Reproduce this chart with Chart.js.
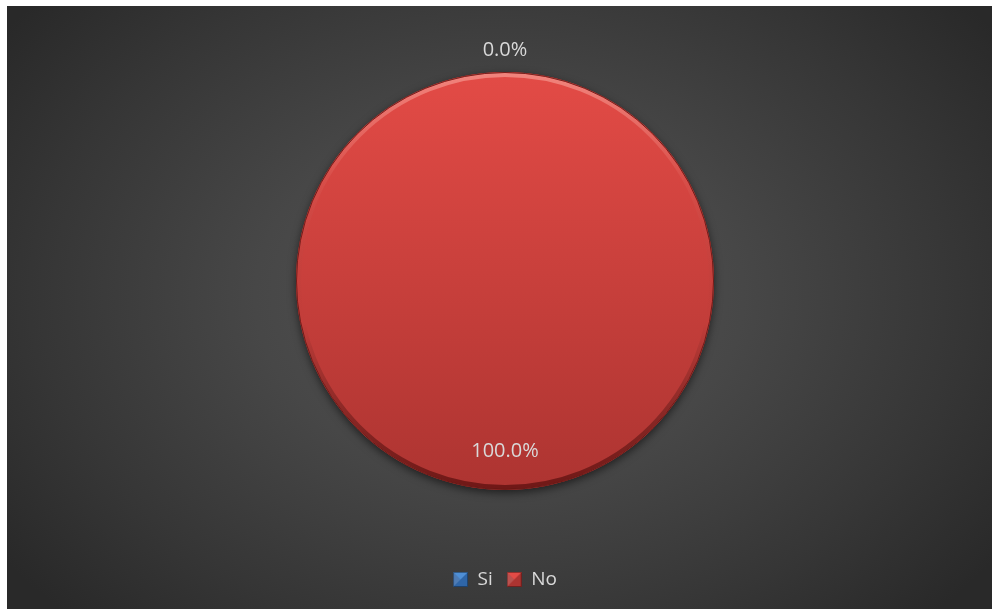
<!DOCTYPE html>
<html>
<head>
<meta charset="utf-8">
<script src="https://cdn.jsdelivr.net/npm/chart.js@4"></script>
<style>
  html, body { margin: 0; padding: 0; background: #ffffff; width: 992px; height: 609px; overflow: hidden; }
  #box {
    position: absolute; left: 7px; top: 6px; width: 985px; height: 603px;
    background: radial-gradient(ellipse 62% 75% at 50% 48%, #555555 0%, #474747 40%, #363636 75%, #292929 100%);
  }
  canvas { display: block; }
</style>
</head>
<body>
<div id="box"><canvas id="c" width="985" height="603"></canvas></div>
<script>
const categories = ['Si', 'No'];
const values = [0, 100];
const sliceTop = ['#4f8fd6', '#e34b46'];
const sliceBottom = ['#2f66a8', '#ad3431'];

const total = values.reduce((a, b) => a + b, 0);
const FONT = "'Open Sans', 'DejaVu Sans', sans-serif";
const TEXT = '#d9d9d9';

function bevelBox(top, bottom) {
  const s = 15;
  const cv = document.createElement('canvas');
  cv.width = s; cv.height = s;
  const g = cv.getContext('2d');
  g.fillStyle = bottom; g.fillRect(0, 0, s, s);
  g.fillStyle = top;
  g.beginPath(); g.moveTo(0, 0); g.lineTo(s, 0); g.lineTo(s / 2, s / 2); g.closePath(); g.fill();
  g.fillStyle = 'rgba(255,255,255,0.15)';
  g.beginPath(); g.moveTo(0, 0); g.lineTo(s / 2, s / 2); g.lineTo(0, s); g.closePath(); g.fill();
  g.strokeStyle = 'rgba(0,0,0,0.35)'; g.lineWidth = 1; g.strokeRect(0.5, 0.5, s - 1, s - 1);
  return cv;
}
const legendIcons = categories.map((c, i) => bevelBox(sliceTop[i], sliceBottom[i]));

const pieDeco = {
  id: 'pieDeco',
  beforeDatasetsDraw(chart) {
    const arc = chart.getDatasetMeta(0).data.find((a, i) => values[i] > 0);
    if (!arc) return;
    const ctx = chart.ctx;
    ctx.save();
    ctx.shadowColor = 'rgba(0,0,0,0.55)';
    ctx.shadowBlur = 8;
    ctx.shadowOffsetY = 3;
    ctx.fillStyle = '#7a2522';
    ctx.beginPath(); ctx.arc(arc.x, arc.y, arc.outerRadius, 0, Math.PI * 2); ctx.fill();
    ctx.restore();
  },
  afterDatasetsDraw(chart) {
    const meta = chart.getDatasetMeta(0);
    const arc = meta.data.find((a, i) => values[i] > 0);
    const ctx = chart.ctx;
    if (arc) {
      const { x, y, outerRadius: r } = arc;
      ctx.save();
      const gh = ctx.createLinearGradient(0, y - r, 0, y + r);
      gh.addColorStop(0, 'rgba(255,190,180,0.5)');
      gh.addColorStop(0.25, 'rgba(255,190,180,0.08)');
      gh.addColorStop(0.6, 'rgba(0,0,0,0.0)');
      gh.addColorStop(1, 'rgba(60,0,0,0.55)');
      ctx.strokeStyle = gh;
      ctx.lineWidth = 4;
      ctx.beginPath(); ctx.arc(x, y, r - 3, 0, Math.PI * 2); ctx.stroke();
      ctx.strokeStyle = 'rgba(90,20,18,0.8)';
      ctx.lineWidth = 1;
      ctx.beginPath(); ctx.arc(x, y, r - 0.5, 0, Math.PI * 2); ctx.stroke();
      ctx.restore();
    }
    ctx.save();
    ctx.font = '20px ' + FONT;
    ctx.fillStyle = TEXT;
    ctx.textAlign = 'center';
    ctx.textBaseline = 'middle';
    meta.data.forEach((a, i) => {
      const mid = (a.startAngle + a.endAngle) / 2;
      const pct = total ? values[i] / total * 100 : 0;
      const rr = values[i] > 0 ? a.outerRadius * 0.815 : a.outerRadius + 22;
      ctx.fillText(pct.toFixed(1) + '%', a.x + Math.cos(mid) * rr, a.y + Math.sin(mid) * rr);
    });
    ctx.restore();
  }
};

new Chart(document.getElementById('c'), {
  type: 'pie',
  data: {
    labels: categories,
    datasets: [{
      data: values,
      borderWidth: 0,
      backgroundColor(ctx) {
        const chart = ctx.chart;
        const ca = chart.chartArea;
        if (!ca) return sliceTop[ctx.dataIndex];
        const cy = (ca.top + ca.bottom) / 2;
        const r = 209;
        const g = chart.ctx.createLinearGradient(0, cy - r, 0, cy + r);
        g.addColorStop(0, sliceTop[ctx.dataIndex]);
        g.addColorStop(1, sliceBottom[ctx.dataIndex]);
        return g;
      }
    }]
  },
  options: {
    responsive: false,
    animation: false,
    radius: 209,
    layout: { padding: { left: 11, right: 0, top: 0, bottom: 10 } },
    plugins: {
      tooltip: { enabled: false },
      legend: {
        position: 'bottom',
        labels: {
          color: TEXT,
          font: { family: FONT, size: 19 },
          boxWidth: 15, boxHeight: 15,
          usePointStyle: true,
          padding: 14,
          generateLabels(chart) {
            return categories.map((c, i) => ({
              text: c,
              fillStyle: sliceTop[i],
              strokeStyle: sliceTop[i],
              pointStyle: legendIcons[i],
              fontColor: TEXT,
              hidden: false,
              index: i,
              datasetIndex: 0
            }));
          }
        }
      }
    }
  },
  plugins: [pieDeco]
});
</script>
</body>
</html>
